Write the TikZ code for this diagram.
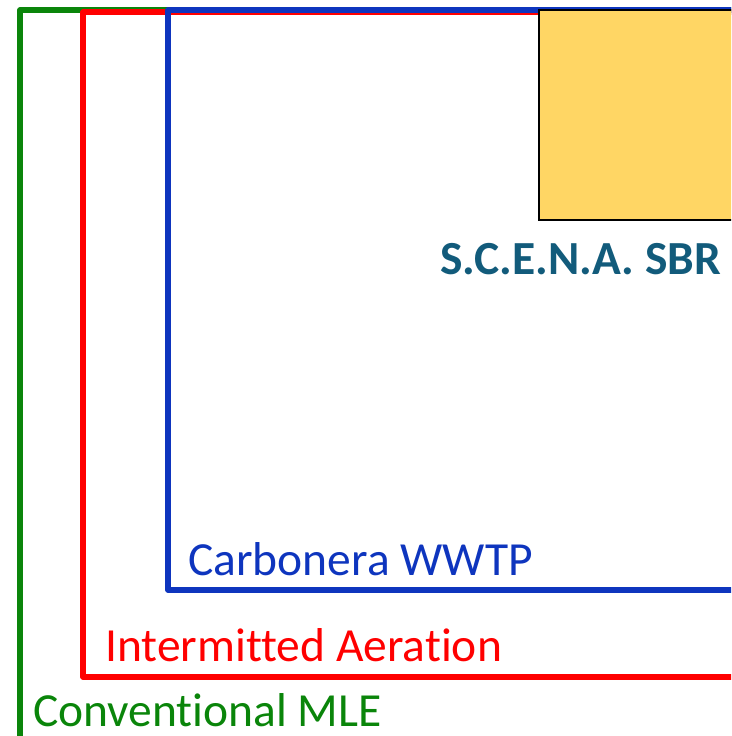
\documentclass[tikz,border=0pt]{standalone}
\usepackage{fontspec}
\setmainfont{Carlito}[Ligatures=NoCommon]
\usetikzlibrary{positioning}
\definecolor{mlegreen}{HTML}{0A850A}
\definecolor{iared}{HTML}{FF0000}
\definecolor{wwtpblue}{HTML}{0E35BE}
\definecolor{sbrfill}{HTML}{FFD664}
\definecolor{sbrtext}{HTML}{125B7B}
\tikzset{
  frame/.style={line width=5.5pt,line join=round},
  lab/.style={font=\fontsize{47.5}{54}\selectfont,anchor=base west,inner sep=0pt},
}

\begin{document}
\begin{tikzpicture}[x=1pt,y=-1pt]
  \useasboundingbox (0,0) rectangle (731,736);
  \clip (0,0) rectangle (731,736);
  % nested frames, outermost first
  \draw[frame,draw=mlegreen] (800,10) -| (20,800);
  \draw[frame,draw=iared] (800,12) -| (83,677) -- (800,677);
  \draw[frame,draw=wwtpblue] (800,10) -| (168,590) -- (800,590);
  % reactor box
  \draw[fill=sbrfill,line width=1.5pt] (539,10) rectangle (800,220);
  % labels
  \node[lab,text=sbrtext,font=\fontsize{47.5}{54}\selectfont\bfseries] (sbr) at (440,274) {S.C.E.N.A. SBR};
  \node[lab,text=wwtpblue] (wwtp) at (188,575) {Carbonera WWTP};
  \node[lab,text=iared] (ia) at (105,661) {Intermitted Aeration};
  \node[lab,text=mlegreen] (mle) at (33,726) {Conventional MLE};
\end{tikzpicture}
\end{document}
